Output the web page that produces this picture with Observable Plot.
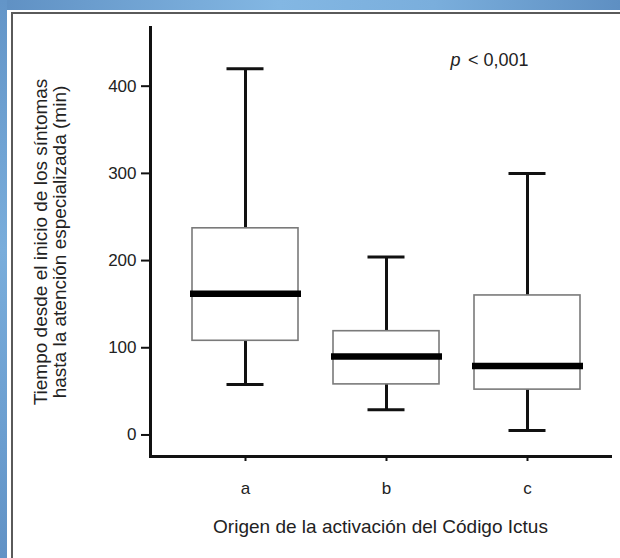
<!DOCTYPE html>
<html>
<head>
<meta charset="utf-8">
<script src="https://cdn.jsdelivr.net/npm/d3@7"></script>
<script src="https://cdn.jsdelivr.net/npm/@observablehq/plot@0.6"></script>
<style>
  body { margin: 0; background: #fff; }
  #wrap { position: relative; width: 620px; height: 558px; overflow: hidden; background: #fff; font-family: "Liberation Sans", Arial, sans-serif; }
  #topband { position: absolute; left: 0; top: 0; width: 620px; height: 10px; background: linear-gradient(to right, #5f90c3, #83b7e3 45%, #7aaedc 70%, #5e8fc2); }
  #leftband { position: absolute; left: 0; top: 0; width: 7px; height: 558px; background: linear-gradient(to bottom, #6395c8, #79addb 45%, #6a9dcf 80%, #6192c5); }
  #panel { position: absolute; left: 11px; top: 12px; right: -2px; bottom: -2px; border-left: 2px solid #5a5a5a; border-top: 2px solid #5a5a5a; }
  #chart { position: absolute; left: 0; top: 0; }
</style>
</head>
<body>
<div id="wrap">
  <div id="topband"></div>
  <div id="leftband"></div>
  <div id="panel"></div>
  <div id="chart"></div>
</div>
<script>
// ---- data ----
const categories = ["a", "b", "c"];
const whiskerLow = [58, 29, 5];
const q1 = [108, 58, 52];
const median = [162, 90, 79];
const q3 = [237, 119, 160];
const whiskerHigh = [420, 204, 300];
const yTicks = [0, 100, 200, 300, 400];
const yLabel = "Tiempo desde el inicio de los síntomas\nhasta la atención especializada (min)";
const xLabel = "Origen de la activación del Código Ictus";
const pLetter = "p";
const pRest = "< 0,001";

const rows = categories.map((c, i) => ({
  cat: c, lo: whiskerLow[i], q1: q1[i], med: median[i], q3: q3[i], hi: whiskerHigh[i]
}));

const chart = Plot.plot({
  width: 620,
  height: 558,
  marginLeft: 150,
  marginRight: 10,
  marginTop: 27,
  marginBottom: 102,
  style: { background: "transparent", fontFamily: "'Liberation Sans', Arial, sans-serif", color: "#111" },
  x: { domain: categories, type: "band", paddingInner: 0.248, paddingOuter: 0.124, insetLeft: 24.5, insetRight: 12.5, label: null },
  y: { domain: [-24.7, 467.3], label: null },
  marks: [
    // whiskers
    Plot.ruleX(rows, { x: "cat", y1: "q3", y2: "hi", stroke: "#111", strokeWidth: 3 }),
    Plot.ruleX(rows, { x: "cat", y1: "lo", y2: "q1", stroke: "#111", strokeWidth: 3 }),
    // caps
    Plot.tickY(rows, { x: "cat", y: "hi", stroke: "#111", strokeWidth: 3, insetLeft: 34.5, insetRight: 34.5 }),
    Plot.tickY(rows, { x: "cat", y: "lo", stroke: "#111", strokeWidth: 3, insetLeft: 34.5, insetRight: 34.5 }),
    // boxes
    Plot.barY(rows, { x: "cat", y1: "q1", y2: "q3", fill: "white", stroke: "#7a7a7a", strokeWidth: 1.6 }),
    // medians
    Plot.tickY(rows, { x: "cat", y: "med", stroke: "#000", strokeWidth: 6.5, insetLeft: -2, insetRight: -3 }),
    // axes
    Plot.axisY({ ticks: yTicks, tickSize: 9, tickPadding: 5, fontSize: 17, strokeWidth: 2, label: null, tickFormat: d => String(d), fill: "#222" }),
    Plot.axisX({ tickSize: 5, tickPadding: 20, fontSize: 17, strokeWidth: 2, label: null, fill: "#222" }),
    Plot.frame({ anchor: "left", stroke: "#111", strokeWidth: 3 }),
    Plot.frame({ anchor: "bottom", stroke: "#111", strokeWidth: 3 }),
    // axis titles
    Plot.text([yLabel], { text: d => d, frameAnchor: "left", rotate: -90, textAnchor: "middle", lineAnchor: "top", lineHeight: 1.0, dx: -117, fontSize: 19, fill: "#222" }),
    Plot.text([xLabel], { text: d => d, frameAnchor: "bottom", textAnchor: "middle", lineAnchor: "top", dy: 63, fontSize: 19, fill: "#222" }),
    // p-value annotation
    Plot.text([pRest], { text: d => d, frameAnchor: "top-right", textAnchor: "end", lineAnchor: "top", dx: -82, dy: 26, fontSize: 18, fill: "#222" }),
    Plot.text([pLetter], { text: d => d, frameAnchor: "top-right", textAnchor: "end", lineAnchor: "top", dx: -150, dy: 26, fontSize: 18, fontStyle: "italic", fill: "#222" })
  ]
});

document.getElementById("chart").appendChild(chart);
</script>
</body>
</html>
